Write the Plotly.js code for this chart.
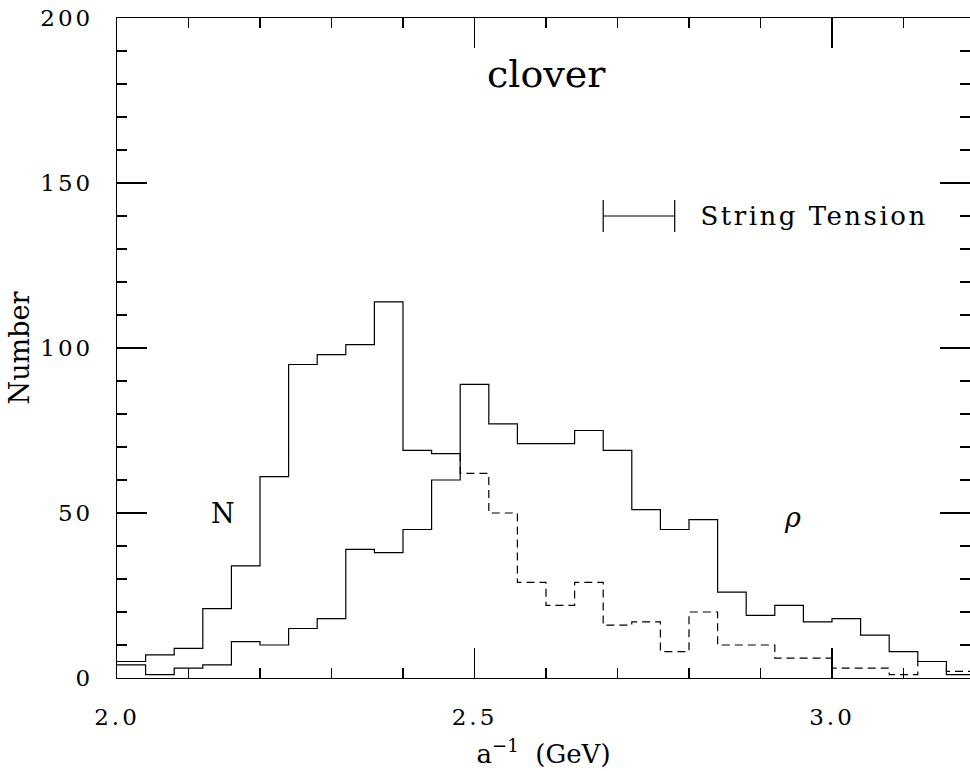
<!DOCTYPE html>
<html>
<head>
<meta charset="utf-8">
<script src="https://cdn.plot.ly/plotly-3.0.1.min.js"></script>
<style>
  html, body { margin: 0; padding: 0; background: #fff; overflow: hidden; }
  #chart { width: 970px; height: 771px; }
  .xtick text, .ytick text { letter-spacing: 3px; }
  .annotation-text.wide { letter-spacing: 2.5px; }
</style>
</head>
<body>
<div id="chart"></div>
<script>
// Histogram bin edges (GeV), 0.04 wide
const binEdges = [2.00, 2.04, 2.08, 2.12, 2.16, 2.20, 2.24, 2.28, 2.32, 2.36,
                  2.40, 2.44, 2.48, 2.52, 2.56, 2.60, 2.64, 2.68, 2.72, 2.76,
                  2.80, 2.84, 2.88, 2.92, 2.96, 3.00, 3.04, 3.08, 3.12, 3.16, 3.20];
// Counts from the nucleon mass (N); drawn solid up to nSolidBins, dashed beyond
const nCounts = [5, 7, 9, 21, 34, 61, 95, 98, 101, 114, 69, 68,
                 62, 50, 29, 22, 29, 16, 17, 8, 20, 10, 10, 6, 6, 3, 3, 1, 5, 2];
const nSolidBins = 12;
// Counts from the rho mass
const rhoCounts = [4, 1, 3, 4, 11, 10, 15, 18, 39, 38, 45, 60, 89, 77, 71, 71, 75, 69,
                   51, 45, 48, 26, 19, 22, 17, 18, 13, 8, 5, 1];
// String tension estimate: centre and half width, drawn at height stY
const stCenter = [2.73];
const stHalfWidth = [0.05];
const stY = [140];
const xTickVals = [2.0, 2.5, 3.0];
const xTickText = ['2.0', '2.5', '3.0'];
const yTickVals = [0, 50, 100, 150, 200];
const yTickText = ['0', '50', '100', '150', '200'];

function stepXY(edges, counts, from, to) {
  const x = [], y = [];
  for (let i = from; i < to; i++) { x.push(edges[i]); y.push(counts[i]); }
  x.push(edges[to]); y.push(counts[to - 1]);
  return {x, y};
}

const nSolid = stepXY(binEdges, nCounts, 0, nSolidBins);
const nDash = stepXY(binEdges, nCounts, nSolidBins, nCounts.length);
nDash.x.unshift(binEdges[nSolidBins]);
nDash.y.unshift(nCounts[nSolidBins - 1]);
const rho = stepXY(binEdges, rhoCounts, 0, rhoCounts.length);

const lineStyle = {color: '#000', width: 1.2, shape: 'hv'};
const traces = [
  {x: nSolid.x, y: nSolid.y, mode: 'lines', line: lineStyle, name: 'N', showlegend: false, hoverinfo: 'skip'},
  {x: nDash.x, y: nDash.y, mode: 'lines', line: Object.assign({}, lineStyle, {dash: '8px,5px'}), name: 'N (cont.)', showlegend: false, hoverinfo: 'skip'},
  {x: rho.x, y: rho.y, mode: 'lines', line: lineStyle, name: 'rho', showlegend: false, hoverinfo: 'skip'},
  {x: stCenter, y: stY, mode: 'markers', marker: {size: 0, color: 'rgba(0,0,0,0)'},
   error_x: {type: 'data', array: stHalfWidth, symmetric: true, width: 16, thickness: 1.2, color: '#000'},
   showlegend: false, hoverinfo: 'skip'}
];

const font = 'DejaVu Serif, Liberation Serif, serif';
const layout = {
  width: 970, height: 771,
  margin: {l: 117, r: 0, t: 18, b: 93},
  paper_bgcolor: '#fff', plot_bgcolor: '#fff',
  showlegend: false,
  font: {family: font, color: '#000', size: 22},
  xaxis: {
    range: [2.0, 3.193], showgrid: false, zeroline: false,
    showline: true, linecolor: '#000', linewidth: 1.2, mirror: 'ticks',
    ticks: 'inside', ticklen: 30, tickwidth: 1.2, tickcolor: '#000',
    tickvals: xTickVals, ticktext: xTickText,
    minor: {dtick: 0.1, tick0: 2.0, ticks: 'inside', ticklen: 10, tickwidth: 1.2, tickcolor: '#000', showgrid: false},
    tickfont: {family: font, size: 23, color: '#000'},
    ticklabelstandoff: 18,
    title: {text: 'a<sup>−1</sup>  (GeV)', font: {family: font, size: 26, color: '#000'}, standoff: 16},
    automargin: false
  },
  yaxis: {
    range: [0, 200], showgrid: false, zeroline: false,
    showline: true, linecolor: '#000', linewidth: 1.2, mirror: 'ticks',
    ticks: 'inside', ticklen: 30, tickwidth: 1.2, tickcolor: '#000',
    tickvals: yTickVals, ticktext: yTickText,
    minor: {dtick: 10, tick0: 0, ticks: 'inside', ticklen: 10, tickwidth: 1.2, tickcolor: '#000', showgrid: false},
    tickfont: {family: font, size: 23, color: '#000'},
    ticklabelstandoff: 18,
    title: {text: 'Number', font: {family: font, size: 27, color: '#000'}, standoff: 2},
    automargin: false
  },
  annotations: [
    {text: 'clover', x: 2.6, y: 183, xref: 'x', yref: 'y', showarrow: false, font: {family: font, size: 38, color: '#000'}},
    {text: 'N', x: 2.148, y: 50, xref: 'x', yref: 'y', showarrow: false, font: {family: font, size: 27, color: '#000'}},
    {text: '<i>ρ</i>', x: 2.945, y: 48.5, xref: 'x', yref: 'y', showarrow: false, font: {family: font, size: 27, color: '#000'}},
    {text: 'String Tension', x: 2.838, y: 140, xref: 'x', yref: 'y', xanchor: 'left', showarrow: false, font: {family: font, size: 26, color: '#000'}}
  ]
};

Plotly.newPlot('chart', traces, layout, {displayModeBar: false, staticPlot: true}).then(function (gd) {
  const ann = gd.querySelectorAll('.annotation-text');
  ann.forEach(function (t) { if (t.textContent === 'String Tension') t.classList.add('wide'); });
});
</script>
</body>
</html>
